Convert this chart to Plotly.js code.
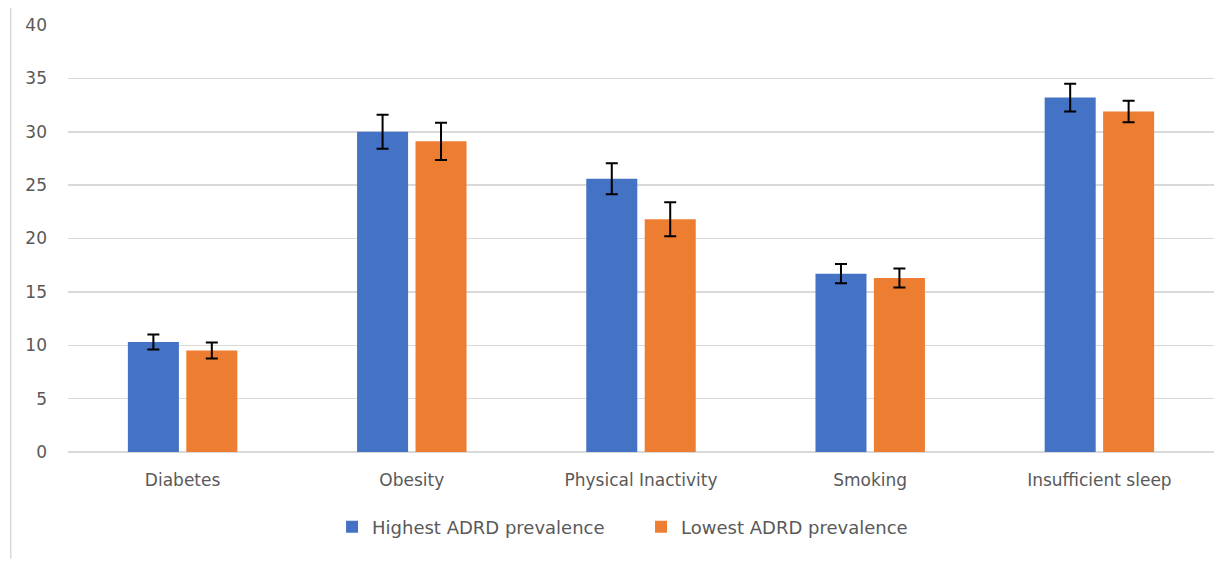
<!DOCTYPE html>
<html>
<head>
<meta charset="utf-8">
<script src="https://cdn.plot.ly/plotly-3.0.1.min.js"></script>
<style>html,body{margin:0;padding:0;background:#fff;}#chart{width:1230px;height:561px;}</style>
</head>
<body>
<div id="chart"></div>
<script>
const categories = ["Diabetes", "Obesity", "Physical Inactivity", "Smoking", "Insufficient sleep"];
const highestValues = [10.3, 30.0, 25.6, 16.7, 33.2];
const highestErrors = [0.7, 1.6, 1.45, 0.9, 1.3];
const lowestValues = [9.5, 29.1, 21.8, 16.3, 31.9];
const lowestErrors = [0.75, 1.75, 1.6, 0.9, 1.0];
const yTicks = [0, 5, 10, 15, 20, 25, 30, 35, 40];

const font = "'DejaVu Sans', Verdana, sans-serif";
const traces = [
  {type: "bar", name: "Highest ADRD prevalence", x: categories, y: highestValues,
   marker: {color: "#4472C4"},
   error_y: {type: "data", array: highestErrors, visible: true, color: "#000", thickness: 2, width: 6}},
  {type: "bar", name: "Lowest ADRD prevalence", x: categories, y: lowestValues,
   marker: {color: "#ED7D31"},
   error_y: {type: "data", array: lowestErrors, visible: true, color: "#000", thickness: 2, width: 6}}
];
const layout = {
  width: 1230, height: 561,
  margin: {l: 68, r: 16, t: 25, b: 109},
  paper_bgcolor: "#fff", plot_bgcolor: "#fff",
  barmode: "group", bargap: 0.49, bargroupgap: 0.127,
  font: {family: font, size: 17, color: "#595959"},
  xaxis: {showgrid: false, showline: false, zeroline: false, ticks: "",
          ticklabelstandoff: 16,
          tickfont: {family: font, size: 17, color: "#595959"}},
  yaxis: {range: [0, 40], tickvals: yTicks, ticktext: yTicks.map(String),
          showgrid: true, gridcolor: "#d9d9d9", gridwidth: 1.5,
          zeroline: true, zerolinecolor: "#d9d9d9", zerolinewidth: 1.5,
          showline: false, ticks: "", ticklabelstandoff: 20,
          tickfont: {family: font, size: 17, color: "#595959"}},
  showlegend: true,
  legend: {orientation: "h", x: 0.2304, xanchor: "left", y: -0.176, yanchor: "middle",
           font: {family: font, size: 18, color: "#595959"}, itemwidth: 30,
           entrywidth: 264, entrywidthmode: "pixels"},
  shapes: [{type: "line", xref: "paper", yref: "paper", x0: -0.05, x1: -0.05, y0: 1.04, y1: -0.25,
            line: {color: "#d9d9d9", width: 1.5}}]
};
Plotly.newPlot("chart", traces, layout, {displayModeBar: false, staticPlot: true});
</script>
</body>
</html>
